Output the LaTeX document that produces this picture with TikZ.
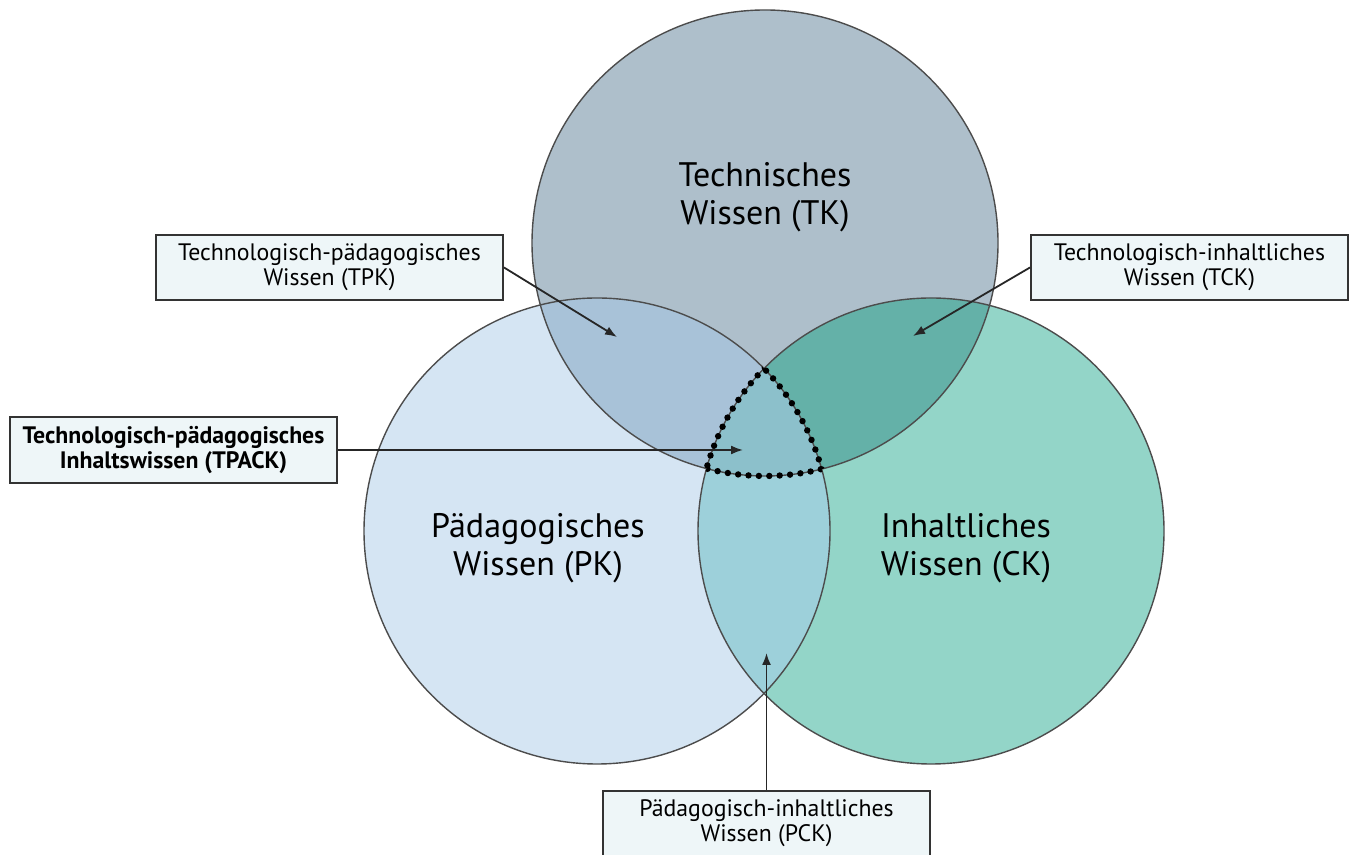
\documentclass[tikz,border=0pt]{standalone}
\usepackage{fontspec}
\setmainfont{PT Sans}
\usetikzlibrary{arrows.meta, positioning}
\definecolor{tkfill}{HTML}{AEBFCB}
\definecolor{pkfill}{HTML}{D5E5F3}
\definecolor{ckfill}{HTML}{93D5C8}
\definecolor{tpfill}{HTML}{A8C2D8}
\definecolor{tcfill}{HTML}{64B1A8}
\definecolor{pcfill}{HTML}{9DD0DA}
\definecolor{allfill}{HTML}{8CC0CB}
\definecolor{boxfill}{HTML}{EEF6F8}

\begin{document}
\begin{tikzpicture}[x=0.5pt, y=0.5pt,
  ring/.style={draw=black!70, line width=0.7pt},
  rim/.style={draw=black, line width=3.2pt, line cap=round, dash pattern=on 0pt off 5.2pt},
  infobox/.style={draw=black!80, line width=1pt, fill=boxfill, align=center, inner sep=0pt,
    font=\fontsize{11.9}{12.5}\selectfont},
  biglabel/.style={align=center, font=\fontsize{17}{19}\selectfont},
  pointer/.style={-{Latex[length=6pt,width=4.5pt]}, line width=0.9pt, black!85}]
\useasboundingbox (0,0) rectangle (1358,855);

% Circles
\coordinate (tkc) at (765,612);
\coordinate (pkc) at (597,324);
\coordinate (ckc) at (931,324);
\fill[tkfill] (tkc) circle (233);
\fill[pkfill] (pkc) circle (233);
\fill[ckfill] (ckc) circle (233);

% Overlaps
\begin{scope}
  \clip (tkc) circle (233);
  \fill[tpfill] (pkc) circle (233);
  \fill[tcfill] (ckc) circle (233);
\end{scope}
\begin{scope}
  \clip (pkc) circle (233);
  \fill[pcfill] (ckc) circle (233);
  \clip (ckc) circle (233);
  \fill[allfill] (tkc) circle (233);
\end{scope}

\draw[ring] (tkc) circle (233);
\draw[ring] (pkc) circle (233);
\draw[ring] (ckc) circle (233);

% Dotted centre (TPACK)
\begin{scope}
  \clip (pkc) circle (233); \clip (ckc) circle (233);
  \draw[rim] (tkc) circle (233);
\end{scope}
\begin{scope}
  \clip (tkc) circle (233); \clip (ckc) circle (233);
  \draw[rim] (pkc) circle (233);
\end{scope}
\begin{scope}
  \clip (tkc) circle (233); \clip (pkc) circle (233);
  \draw[rim] (ckc) circle (233);
\end{scope}

% Circle labels
\node[biglabel] (tk) at (765,658) {Technisches\\Wissen (TK)};
\node[biglabel] (pk) at (538,307) {Pädagogisches\\Wissen (PK)};
\node[biglabel] (ck) at (966,307) {Inhaltliches\\Wissen (CK)};

% Boxes
\node[infobox, minimum width=173.5pt, minimum height=32.5pt] (tpk) at (329.5,587.5) {Technologisch-pädagogisches\\Wissen (TPK)};
\node[infobox, minimum width=158.5pt, minimum height=32.5pt] (tck) at (1189.5,587.5) {Technologisch-inhaltliches\\Wissen (TCK)};
\node[infobox, minimum width=163.5pt, minimum height=33pt, font=\fontsize{11.9}{12.5}\selectfont\bfseries] (tpack) at (173.5,405) {Technologisch-pädagogisches\\Inhaltswissen (TPACK)};
\node[infobox, minimum width=163.5pt, minimum height=32.5pt] (pck) at (766.5,31.5) {Pädagogisch-inhaltliches\\Wissen (PCK)};

% Arrows
\coordinate (tpkend) at (617,518);
\coordinate (tckend) at (913,519);
\coordinate (tpackend) at (743,405);
\coordinate (pckend) at (766.5,202);
\draw[pointer] (tpk.east) -- (tpkend);
\draw[pointer] (tck.west) -- (tckend);
\draw[pointer] (tpack.east) -- (tpackend);
\draw[pointer] (pck.north) -- (pckend);
\end{tikzpicture}
\end{document}
